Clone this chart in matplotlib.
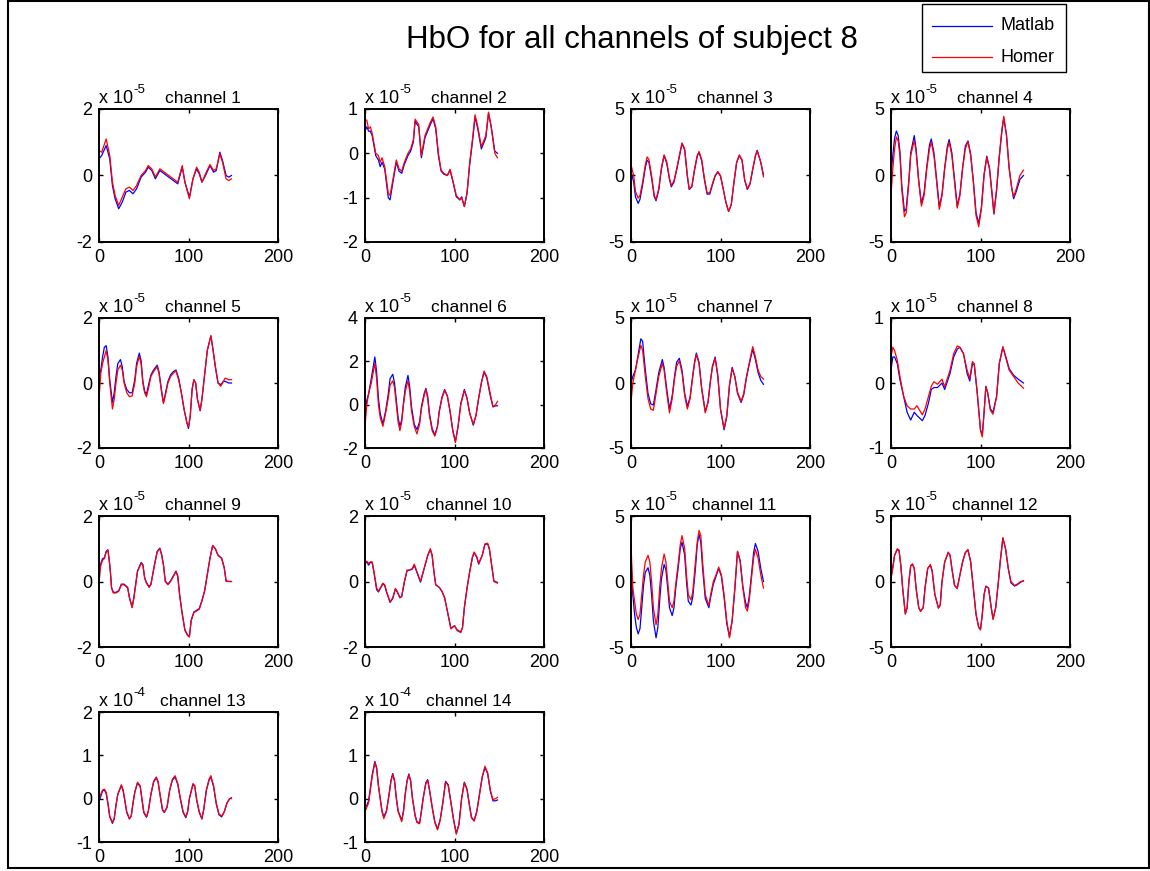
import matplotlib
matplotlib.use('Agg')
import matplotlib.pyplot as plt
from matplotlib.lines import Line2D
from matplotlib.patches import Rectangle

plt.rcParams['font.family'] = ['Liberation Sans', 'DejaVu Sans']
plt.rcParams['axes.unicode_minus'] = False

# ---------------- data (values in units of the axis exponent) ----------------
x1 = [0, 3, 8, 12, 15, 18, 22, 26, 30, 34, 38, 42, 47, 52, 55, 59, 63, 68, 73, 78,
      83, 88, 90, 93, 96, 101, 105, 109, 112, 115, 119, 124, 128, 131, 135, 138, 142, 145, 148]
homer1 = [0.75, 0.7, 1.1, 0.6, -0.2, -0.6, -0.9, -0.65, -0.4, -0.35, -0.45, -0.3, 0.0, 0.15, 0.3, 0.2, -0.05, 0.2, 0.1, 0.0,
          -0.1, -0.2, 0.0, 0.3, -0.2, -0.7, -0.1, 0.25, 0.1, -0.2, 0.05, 0.33, 0.15, 0.2, 0.65, 0.4, -0.1, -0.15, -0.1]
matlab1 = [0.5, 0.6, 0.9, 0.5, -0.3, -0.7, -1.0, -0.8, -0.5, -0.45, -0.55, -0.4, -0.05, 0.1, 0.25, 0.15, -0.1, 0.15, 0.05, -0.05,
           -0.15, -0.25, -0.05, 0.25, -0.2, -0.65, -0.1, 0.2, 0.05, -0.2, 0.0, 0.3, 0.1, 0.15, 0.7, 0.45, 0.0, -0.05, 0.0]

x2 = [0, 2, 4, 6, 8, 12, 15, 17, 19, 22, 26, 28, 32, 35, 38, 41, 44, 48, 51, 54,
      56, 60, 63, 67, 70, 73, 76, 79, 82, 85, 88, 92, 95, 98, 102, 106, 108, 111, 114, 117,
      120, 123, 126, 130, 133, 135, 138, 141, 145, 148]
homer2 = [0.75, 0.75, 0.55, 0.6, 0.45, 0.0, -0.05, -0.2, -0.1, -0.3, -0.9, -0.95, -0.5, -0.15, -0.35, -0.4, -0.2, 0.0, 0.1, 0.3,
          0.77, 0.65, -0.05, 0.4, 0.55, 0.7, 0.82, 0.6, 0.0, -0.38, -0.45, -0.5, -0.36, -0.6, -0.95, -1.05, -1.0, -1.2, -0.9, -0.2,
          0.3, 0.87, 0.6, 0.15, 0.3, 0.4, 0.93, 0.6, 0.0, -0.1]
matlab2 = [0.5, 0.6, 0.5, 0.5, 0.4, -0.05, -0.15, -0.3, -0.2, -0.35, -1.0, -1.05, -0.55, -0.2, -0.4, -0.45, -0.25, -0.05, 0.05, 0.25,
           0.72, 0.6, -0.1, 0.35, 0.5, 0.65, 0.78, 0.55, -0.05, -0.4, -0.47, -0.5, -0.38, -0.62, -0.98, -1.05, -0.98, -1.2, -0.9, -0.25,
           0.25, 0.82, 0.55, 0.1, 0.25, 0.35, 0.9, 0.6, 0.05, 0.0]

x3 = [0, 3, 5, 8, 10, 13, 16, 18, 20, 23, 26, 28, 31, 34, 37, 40, 43, 45, 48, 51,
      54, 57, 60, 63, 65, 68, 71, 74, 76, 79, 82, 85, 88, 91, 94, 97, 100, 103, 106, 109,
      112, 115, 118, 121, 124, 127, 130, 133, 136, 139, 141, 145, 148]
homer3 = [0.8, 0.0, -1.2, -1.7, -1.5, -0.5, 0.8, 1.4, 1.2, 0.0, -1.5, -1.8, -1.0, 0.6, 1.55, 1.0, -0.2, -0.75, -0.4, 0.5,
          1.5, 2.45, 2.0, 0.0, -1.0, -0.8, 0.5, 1.5, 1.8, 1.2, -0.2, -1.3, -1.3, -0.6, 0.0, 0.3, 0.0, -1.0, -2.0, -2.7,
          -2.2, -0.5, 1.0, 1.55, 1.2, -0.3, -1.0, -0.6, 0.5, 1.5, 1.85, 1.0, -0.1]
matlab3 = [0.3, -0.5, -1.6, -2.1, -1.8, -0.7, 0.6, 1.15, 1.0, -0.2, -1.6, -1.9, -1.1, 0.5, 1.5, 0.9, -0.3, -0.85, -0.5, 0.4,
           1.4, 2.4, 1.9, -0.1, -1.05, -0.85, 0.4, 1.45, 1.75, 1.1, -0.3, -1.4, -1.4, -0.7, -0.05, 0.25, -0.05, -1.0, -2.0, -2.7,
           -2.2, -0.55, 0.95, 1.5, 1.15, -0.35, -1.05, -0.65, 0.45, 1.45, 1.9, 1.0, 0.05]

x4 = [0, 2, 4, 6, 8, 10, 12, 15, 17, 20, 22, 26, 28, 31, 34, 37, 40, 43, 45, 48,
      51, 54, 57, 60, 63, 65, 68, 71, 74, 77, 80, 83, 86, 89, 92, 95, 98, 101, 104, 107,
      110, 113, 115, 118, 121, 124, 126, 129, 132, 135, 137, 140, 144, 148]
homer4 = [-1.5, 0.5, 2.0, 2.9, 2.6, 1.5, -1.0, -3.1, -2.8, -0.5, 1.5, 2.65, 1.8, -0.5, -2.3, -1.5, 0.5, 2.0, 2.5, 1.5,
          -0.5, -2.55, -1.5, 0.5, 2.0, 2.5, 1.5, -0.5, -2.45, -1.5, 0.5, 2.0, 2.55, 1.5, -0.5, -3.0, -3.85, -2.5, 0.0, 1.35,
          0.5, -1.5, -2.85, -1.0, 1.5, 3.5, 4.45, 3.0, 0.5, -1.0, -1.6, -1.0, 0.0, 0.4]
matlab4 = [0.0, 1.5, 2.8, 3.35, 3.0, 1.8, -0.7, -2.7, -2.5, -0.3, 1.7, 3.0, 2.0, -0.4, -2.1, -1.3, 0.7, 2.3, 2.75, 1.7,
           -0.3, -2.35, -1.4, 0.6, 2.2, 2.7, 1.7, -0.3, -2.3, -1.4, 0.6, 2.2, 2.6, 1.6, -0.4, -2.8, -3.6, -2.4, 0.1, 1.45,
           0.6, -1.4, -2.9, -1.1, 1.4, 3.4, 4.3, 3.1, 0.6, -1.0, -1.75, -1.2, -0.3, 0.0]

x5 = [0, 2, 4, 6, 8, 10, 12, 15, 17, 19, 21, 24, 26, 28, 31, 34, 37, 40, 42, 45,
      47, 49, 51, 53, 55, 58, 61, 65, 67, 70, 72, 74, 77, 80, 83, 86, 89, 92, 95, 98,
      100, 102, 104, 106, 108, 110, 113, 115, 117, 119, 121, 125, 127, 130, 133, 136, 139, 141, 145, 148]
homer5 = [-0.5, 0.3, 0.6, 0.8, 1.0, 0.7, 0.0, -0.8, -0.5, 0.0, 0.4, 0.55, 0.4, 0.0, -0.3, -0.42, -0.4, 0.0, 0.5, 0.82,
          0.6, 0.0, -0.3, -0.42, -0.2, 0.2, 0.35, 0.5, 0.3, -0.3, -0.63, -0.4, 0.0, 0.2, 0.3, 0.37, 0.1, -0.3, -0.8, -1.2,
          -1.35, -1.0, -0.2, 0.1, 0.0, -0.5, -0.85, -0.5, 0.0, 0.5, 1.0, 1.45, 1.1, 0.5, 0.0, -0.1, 0.05, 0.15, 0.1, 0.1]
matlab5 = [0.0, 0.4, 0.8, 1.1, 1.15, 0.8, 0.1, -0.6, -0.3, 0.2, 0.6, 0.72, 0.5, 0.05, -0.2, -0.3, -0.3, 0.1, 0.6, 0.92,
           0.7, 0.05, -0.25, -0.35, -0.1, 0.25, 0.4, 0.55, 0.35, -0.25, -0.6, -0.35, 0.05, 0.25, 0.35, 0.4, 0.15, -0.3, -0.8, -1.2,
           -1.4, -1.0, -0.2, 0.1, 0.0, -0.5, -0.85, -0.5, 0.0, 0.5, 1.0, 1.45, 1.1, 0.5, 0.0, -0.05, 0.05, 0.05, 0.0, 0.0]

x6 = [0, 2, 4, 7, 11, 13, 15, 17, 20, 23, 26, 28, 31, 33, 35, 37, 39, 41, 43, 45,
      48, 50, 52, 55, 58, 61, 63, 66, 68, 70, 72, 75, 78, 81, 83, 86, 89, 92, 95, 98,
      101, 104, 107, 111, 114, 117, 121, 124, 127, 130, 133, 136, 140, 143, 146, 148]
homer6 = [-1.0, 0.0, 0.5, 1.0, 1.9, 1.2, 0.0, -0.6, -1.0, -0.4, 0.3, 0.9, 1.1, 0.8, 0.0, -0.8, -1.2, -0.8, 0.0, 0.6,
          1.1, 0.6, -0.3, -1.0, -1.35, -0.9, -0.2, 0.4, 0.7, 0.3, -0.5, -1.2, -1.45, -1.0, -0.3, 0.3, 0.65, 0.4, -0.3, -1.2,
          -1.75, -1.0, 0.0, 0.65, 0.3, -0.4, -0.9, -0.5, 0.3, 1.0, 1.55, 1.3, 0.5, -0.1, 0.0, 0.15]
matlab6 = [-0.5, 0.2, 0.5, 1.2, 2.2, 1.5, 0.3, -0.4, -0.9, -0.3, 0.5, 1.2, 1.4, 1.0, 0.2, -0.6, -1.0, -0.7, 0.1, 0.8,
           1.35, 0.8, -0.1, -0.9, -1.15, -0.8, -0.1, 0.5, 0.75, 0.4, -0.4, -1.1, -1.4, -1.0, -0.3, 0.35, 0.7, 0.4, -0.3, -1.15,
           -1.7, -1.0, 0.05, 0.7, 0.3, -0.4, -0.95, -0.5, 0.3, 1.0, 1.5, 1.25, 0.4, -0.1, -0.05, -0.05]

x7 = [0, 2, 5, 8, 11, 13, 16, 19, 22, 25, 28, 31, 35, 37, 40, 43, 46, 49, 51, 54,
      57, 60, 63, 66, 69, 71, 73, 76, 79, 83, 86, 89, 91, 94, 97, 100, 104, 107, 110, 113,
      116, 119, 123, 126, 129, 132, 136, 139, 142, 145, 148]
homer7 = [-1.5, 0.0, 1.0, 2.0, 2.9, 2.5, 0.5, -1.2, -2.0, -2.1, -0.8, 0.5, 1.5, 1.0, -0.8, -2.3, -1.2, 0.5, 1.3, 1.7,
          0.8, -1.0, -2.0, -1.2, 0.5, 1.5, 2.2, 1.5, -0.5, -2.3, -1.5, 0.3, 1.2, 1.9, 0.5, -2.0, -3.5, -2.5, -0.2, 1.1,
          0.5, -0.7, -1.4, -0.8, 0.5, 1.5, 2.8, 2.0, 1.0, 0.5, 0.3]
matlab7 = [0.0, 0.5, 1.0, 2.2, 3.4, 3.2, 1.0, -0.8, -1.6, -1.7, -0.5, 0.8, 1.8, 1.2, -0.5, -2.0, -1.0, 0.7, 1.6, 1.9,
           1.0, -0.8, -1.8, -1.1, 0.6, 1.6, 2.3, 1.6, -0.4, -2.2, -1.5, 0.3, 1.3, 2.0, 0.6, -2.0, -3.6, -2.6, -0.2, 1.2,
           0.5, -0.8, -1.5, -0.9, 0.4, 1.4, 2.6, 1.8, 0.8, 0.2, -0.1]

x8 = [0, 2, 4, 7, 10, 14, 18, 22, 26, 29, 35, 38, 42, 45, 48, 52, 57, 60, 66, 70,
      74, 77, 81, 85, 88, 91, 93, 96, 100, 102, 104, 106, 108, 111, 114, 118, 121, 125, 128, 132,
      137, 142, 148]
homer8 = [0.4, 0.55, 0.5, 0.35, 0.1, -0.2, -0.35, -0.4, -0.4, -0.35, -0.49, -0.4, -0.2, -0.05, 0.02, -0.02, 0.06, -0.06, 0.2, 0.45,
          0.57, 0.55, 0.45, 0.2, 0.07, 0.33, 0.3, -0.1, -0.73, -0.83, -0.45, -0.06, -0.15, -0.42, -0.48, -0.21, 0.3, 0.56, 0.4, 0.2,
          0.1, 0.0, -0.08]
matlab8 = [0.2, 0.4, 0.4, 0.3, 0.05, -0.2, -0.45, -0.57, -0.45, -0.5, -0.58, -0.5, -0.3, -0.1, -0.07, -0.07, 0.0, -0.1, 0.15, 0.4,
           0.52, 0.55, 0.45, 0.15, 0.03, 0.3, 0.28, -0.1, -0.72, -0.8, -0.45, -0.05, -0.15, -0.4, -0.45, -0.2, 0.3, 0.55, 0.42, 0.22,
           0.12, 0.06, 0.0]

x9 = [0, 1, 2, 4, 6, 8, 10, 12, 13, 14, 16, 19, 22, 25, 28, 32, 34, 37, 39, 41,
      43, 47, 49, 51, 53, 56, 58, 60, 62, 65, 68, 70, 72, 74, 77, 80, 83, 86, 88, 90,
      93, 96, 99, 101, 103, 106, 109, 112, 115, 118, 121, 124, 127, 130, 133, 137, 140, 142, 145, 148]
homer9 = [-0.1, 0.3, 0.5, 0.65, 0.7, 0.9, 0.95, 0.5, 0.2, -0.2, -0.35, -0.35, -0.3, -0.1, -0.1, -0.2, -0.5, -0.8, -0.5, -0.1,
          0.3, 0.55, 0.5, 0.1, -0.05, -0.18, -0.1, 0.2, 0.5, 0.9, 1.0, 0.8, 0.5, 0.0, -0.1, 0.0, 0.15, 0.3, 0.15, -0.4,
          -1.0, -1.5, -1.65, -1.7, -1.2, -0.95, -0.9, -0.85, -0.6, -0.3, 0.2, 0.7, 1.1, 1.0, 0.8, 0.7, 0.4, 0.0, 0.0, 0.0]
matlab9 = [-0.05, 0.35, 0.55, 0.7, 0.72, 0.92, 0.97, 0.52, 0.2, -0.18, -0.33, -0.33, -0.28, -0.08, -0.08, -0.18, -0.48, -0.78, -0.48, -0.08,
           0.32, 0.58, 0.52, 0.12, -0.03, -0.16, -0.08, 0.22, 0.52, 0.92, 1.02, 0.82, 0.52, 0.02, -0.08, 0.02, 0.17, 0.32, 0.17, -0.38,
           -0.98, -1.48, -1.63, -1.68, -1.18, -0.93, -0.88, -0.83, -0.58, -0.28, 0.22, 0.72, 1.1, 1.0, 0.8, 0.72, 0.42, 0.02, 0.0, 0.0]

x10 = [0, 2, 4, 6, 8, 10, 13, 15, 17, 20, 22, 24, 28, 31, 34, 36, 39, 41, 44, 47,
       50, 53, 55, 58, 62, 64, 67, 70, 73, 75, 77, 79, 83, 86, 89, 92, 96, 100, 103, 107,
       109, 111, 114, 117, 120, 122, 125, 127, 131, 134, 137, 139, 141, 144, 148]
homer10 = [0.6, 0.62, 0.55, 0.6, 0.6, 0.3, -0.2, -0.3, -0.2, -0.05, -0.1, -0.3, -0.62, -0.5, -0.21, -0.3, -0.49, -0.45, 0.0, 0.35,
           0.35, 0.4, 0.53, 0.3, 0.0, 0.2, 0.5, 0.8, 1.0, 0.8, 0.3, -0.1, -0.18, -0.3, -0.5, -0.9, -1.45, -1.35, -1.5, -1.56,
           -1.4, -0.8, -0.2, 0.3, 0.75, 0.9, 0.75, 0.55, 0.8, 1.15, 1.17, 1.0, 0.6, 0.0, -0.05]
matlab10 = [0.55, 0.6, 0.5, 0.58, 0.58, 0.28, -0.25, -0.32, -0.22, -0.07, -0.12, -0.32, -0.64, -0.52, -0.23, -0.32, -0.5, -0.46, -0.02, 0.33,
            0.35, 0.38, 0.5, 0.28, -0.02, 0.18, 0.48, 0.78, 0.98, 0.8, 0.3, -0.1, -0.18, -0.3, -0.5, -0.9, -1.43, -1.35, -1.48, -1.54,
            -1.4, -0.8, -0.2, 0.3, 0.73, 0.88, 0.73, 0.53, 0.8, 1.13, 1.15, 0.98, 0.6, 0.02, -0.03]

x11 = [0, 1, 2, 4, 6, 8, 10, 12, 14, 16, 19, 21, 23, 25, 28, 30, 32, 34, 37, 39,
       41, 43, 46, 48, 50, 53, 55, 57, 60, 62, 64, 67, 69, 72, 74, 76, 78, 80, 83, 87,
       89, 92, 95, 98, 101, 104, 107, 110, 113, 116, 119, 122, 125, 128, 130, 132, 135, 137, 139, 142,
       145, 148]
homer11 = [3.0, 1.0, -0.5, -1.5, -2.5, -2.9, -2.5, -1.0, 0.5, 1.5, 2.0, 1.5, 0.0, -2.0, -3.3, -2.5, -0.5, 1.0, 2.1, 1.5,
           0.0, -1.5, -2.0, -1.5, -0.2, 1.5, 2.8, 3.5, 2.5, 0.5, -1.0, -1.4, -0.8, 1.5, 3.0, 3.9, 3.5, 1.5, -1.0, -1.85,
           -1.0, 0.0, 0.5, 1.1, 0.5, -1.0, -3.0, -4.3, -3.0, -0.5, 2.3, 1.5, -0.5, -2.0, -2.25, -1.5, 0.5, 1.8, 2.45, 1.8,
           0.5, -0.5]
matlab11 = [2.0, 0.5, -1.0, -2.5, -3.5, -4.0, -3.6, -2.0, -0.3, 0.7, 1.05, 0.5, -1.0, -3.0, -4.3, -3.5, -1.5, 0.2, 1.3, 0.9,
            -0.5, -2.0, -2.6, -2.0, -0.5, 1.2, 2.5, 3.0, 2.0, 0.0, -1.5, -1.8, -1.2, 1.0, 2.8, 3.6, 3.0, 1.0, -1.3, -2.0,
            -1.2, -0.2, 0.4, 1.0, 0.4, -1.2, -3.2, -4.2, -3.0, -0.6, 2.3, 1.6, -0.4, -1.6, -2.0, -1.2, 0.8, 2.2, 2.9, 2.3,
            1.0, 0.0]

x12 = [0, 2, 4, 7, 9, 11, 13, 16, 18, 20, 22, 24, 26, 28, 31, 33, 36, 38, 41, 44,
       46, 49, 53, 55, 57, 60, 64, 66, 68, 71, 74, 77, 80, 83, 86, 89, 92, 95, 98, 100,
       102, 104, 106, 109, 112, 114, 117, 120, 122, 125, 128, 131, 134, 138, 141, 145, 148]
homer12 = [0.2, 1.0, 2.0, 2.5, 2.4, 1.2, -0.5, -2.5, -2.0, 0.0, 1.2, 1.35, 1.0, -0.5, -2.0, -2.3, -2.0, -0.5, 1.0, 1.3,
           0.8, -1.0, -2.05, -1.8, 0.0, 1.5, 2.25, 2.0, 1.0, -0.3, -0.55, 0.5, 1.5, 2.2, 2.45, 1.5, -0.5, -2.5, -3.5, -3.7,
           -2.5, -1.0, -0.38, -0.5, -2.0, -2.9, -2.0, 0.0, 1.5, 3.35, 2.5, 1.0, 0.0, -0.3, -0.2, 0.0, 0.05]
matlab12 = [0.3, 1.1, 2.0, 2.45, 2.35, 1.2, -0.5, -2.45, -2.0, 0.0, 1.2, 1.3, 1.0, -0.5, -2.0, -2.25, -2.0, -0.5, 1.0, 1.25,
            0.8, -1.0, -2.0, -1.8, 0.0, 1.5, 2.2, 2.0, 1.0, -0.3, -0.5, 0.5, 1.5, 2.2, 2.4, 1.5, -0.5, -2.5, -3.5, -3.65,
            -2.5, -1.0, -0.35, -0.5, -2.0, -2.85, -2.0, 0.0, 1.5, 3.3, 2.5, 1.0, -0.1, -0.35, -0.25, -0.05, 0.05]

x13 = [0, 2, 4, 6, 8, 10, 12, 15, 17, 19, 21, 25, 27, 29, 31, 34, 36, 38, 40, 43,
       46, 48, 50, 53, 55, 58, 61, 64, 66, 69, 71, 73, 76, 79, 82, 85, 88, 91, 94, 97,
       99, 101, 105, 107, 109, 112, 115, 117, 120, 123, 125, 128, 131, 134, 137, 140, 143, 146, 148]
homer13 = [0.0, 0.1, 0.2, 0.22, 0.15, -0.1, -0.4, -0.55, -0.45, -0.15, 0.1, 0.32, 0.2, -0.05, -0.3, -0.46, -0.4, -0.1, 0.15, 0.38,
           0.3, 0.0, -0.3, -0.42, -0.3, 0.1, 0.4, 0.5, 0.4, 0.0, -0.25, -0.31, -0.2, 0.2, 0.45, 0.53, 0.35, 0.0, -0.3, -0.42,
           -0.3, 0.0, 0.35, 0.3, 0.0, -0.3, -0.46, -0.25, 0.2, 0.45, 0.53, 0.3, -0.1, -0.35, -0.4, -0.3, -0.1, 0.0, 0.0]
matlab13 = [-0.05, 0.05, 0.18, 0.2, 0.12, -0.12, -0.42, -0.57, -0.47, -0.15, 0.1, 0.3, 0.18, -0.07, -0.32, -0.47, -0.4, -0.1, 0.15, 0.36,
            0.28, -0.02, -0.32, -0.43, -0.3, 0.1, 0.38, 0.48, 0.38, -0.02, -0.27, -0.32, -0.2, 0.2, 0.43, 0.5, 0.33, -0.02, -0.32, -0.44,
            -0.3, 0.0, 0.33, 0.28, -0.02, -0.32, -0.47, -0.25, 0.2, 0.43, 0.5, 0.28, -0.12, -0.37, -0.42, -0.3, -0.1, 0.0, 0.02]

x14 = [0, 2, 4, 6, 8, 11, 13, 15, 17, 19, 21, 24, 27, 29, 31, 33, 35, 37, 41, 43,
       45, 47, 49, 51, 53, 56, 58, 61, 63, 65, 68, 70, 72, 75, 78, 81, 84, 87, 90, 93,
       96, 99, 102, 105, 108, 111, 114, 117, 119, 122, 125, 128, 131, 134, 137, 140, 143, 146, 148]
homer14 = [-0.3, -0.2, -0.1, 0.2, 0.5, 0.83, 0.7, 0.3, 0.0, -0.3, -0.46, -0.3, 0.1, 0.4, 0.56, 0.4, 0.0, -0.3, -0.53, -0.3,
           0.1, 0.4, 0.55, 0.4, 0.0, -0.4, -0.55, -0.58, -0.3, 0.0, 0.35, 0.42, 0.2, -0.2, -0.55, -0.72, -0.5, -0.1, 0.38, 0.3,
           -0.1, -0.5, -0.82, -0.6, 0.0, 0.37, 0.2, -0.2, -0.45, -0.52, -0.3, 0.1, 0.5, 0.75, 0.6, 0.2, -0.02, 0.0, 0.03]
matlab14 = [-0.2, -0.15, -0.05, 0.25, 0.55, 0.86, 0.72, 0.3, 0.0, -0.28, -0.42, -0.28, 0.12, 0.42, 0.58, 0.42, 0.02, -0.28, -0.5, -0.28,
            0.12, 0.42, 0.57, 0.42, 0.02, -0.38, -0.53, -0.56, -0.28, 0.02, 0.37, 0.44, 0.22, -0.18, -0.53, -0.7, -0.48, -0.08, 0.4, 0.32,
            -0.08, -0.48, -0.8, -0.58, 0.02, 0.38, 0.22, -0.18, -0.43, -0.5, -0.28, 0.12, 0.5, 0.72, 0.58, 0.18, -0.05, -0.05, -0.03]

channel_names = ['channel %d' % i for i in range(1, 15)]
xs = [x1, x2, x3, x4, x5, x6, x7, x8, x9, x10, x11, x12, x13, x14]
matlab = [matlab1, matlab2, matlab3, matlab4, matlab5, matlab6, matlab7,
          matlab8, matlab9, matlab10, matlab11, matlab12, matlab13, matlab14]
homer = [homer1, homer2, homer3, homer4, homer5, homer6, homer7,
         homer8, homer9, homer10, homer11, homer12, homer13, homer14]
ylims = [(-2, 2), (-2, 1), (-5, 5), (-5, 5), (-2, 2), (-2, 4), (-5, 5),
         (-1, 1), (-2, 2), (-2, 2), (-5, 5), (-5, 5), (-1, 2), (-1, 2)]
yticks = [[-2, 0, 2], [-2, -1, 0, 1], [-5, 0, 5], [-5, 0, 5], [-2, 0, 2], [-2, 0, 2, 4], [-5, 0, 5],
          [-1, 0, 1], [-2, 0, 2], [-2, 0, 2], [-5, 0, 5], [-5, 0, 5], [-1, 0, 1, 2], [-1, 0, 1, 2]]
exponents = ['-5'] * 12 + ['-4', '-4']
xticks = [0, 100, 200]

for xv, m, h in zip(xs, matlab, homer):
    assert len(xv) == len(m) == len(h), (len(xv), len(m), len(h))

# ---------------- layout ----------------
W, H = 1150, 871
fig = plt.figure(figsize=(W / 100, H / 100), dpi=100)
fig.patch.set_facecolor('white')

col_left = [99, 365, 631, 891]
col_w = 179
row_top = [109, 318, 516, 712]
row_bottom = [242, 448, 647, 842]

for i in range(14):
    r, c = divmod(i, 4)
    l = col_left[c] / W
    b = 1 - row_bottom[r] / H
    w = col_w / W
    hgt = (row_bottom[r] - row_top[r]) / H
    ax = fig.add_axes([l, b, w, hgt])
    ax.plot(xs[i], matlab[i], color='#0000ff', lw=0.9)
    ax.plot(xs[i], homer[i], color='#ff0000', lw=0.9)
    ax.set_xlim(0, 200)
    ax.set_ylim(*ylims[i])
    ax.set_xticks(xticks)
    ax.set_yticks(yticks[i])
    ax.tick_params(direction='in', top=True, right=True, length=3, width=1,
                   labelsize=13, pad=5)
    for s in ax.spines.values():
        s.set_linewidth(1.4)
    base = ax.annotate('x 10', xy=(0, 1), xycoords='axes fraction',
                       xytext=(0, 4.5), textcoords='offset points', ha='left', va='baseline',
                       fontsize=13)
    ax.annotate(exponents[i], xy=(1, 1), xycoords=base,
                xytext=(0.5, -2.5), textcoords='offset points', ha='left', va='baseline',
                fontsize=9.5)
    ax.annotate(channel_names[i], xy=(0.578, 1), xycoords='axes fraction',
                xytext=(0, 4.5), textcoords='offset points', ha='center', va='baseline',
                fontsize=12.5)

# title
fig.text(632 / W, 1 - 40 / H, 'HbO for all channels of subject 8', ha='center', va='center',
         fontsize=22.5)

# legend (manual, MATLAB style)
fig.add_artist(Rectangle((922 / W, 1 - 72 / H), 144 / W, 68 / H, transform=fig.transFigure,
                         facecolor='white', edgecolor='black', lw=1.0))
fig.add_artist(Line2D([932 / W, 992 / W], [1 - 26 / H] * 2, transform=fig.transFigure,
                      color='#0000ff', lw=0.9))
fig.add_artist(Line2D([932 / W, 992 / W], [1 - 57 / H] * 2, transform=fig.transFigure,
                      color='#ff0000', lw=0.9))
fig.text(1000 / W, 1 - 26 / H, 'Matlab', ha='left', va='center', fontsize=13)
fig.text(1000 / W, 1 - 57 / H, 'Homer', ha='left', va='center', fontsize=13)

# figure frame
fig.add_artist(Rectangle((8 / W, 1 - 868 / H), 1141 / W, 867 / H, transform=fig.transFigure,
                         fill=False, edgecolor='black', lw=1.5))

fig.savefig('out.png', dpi=100)
